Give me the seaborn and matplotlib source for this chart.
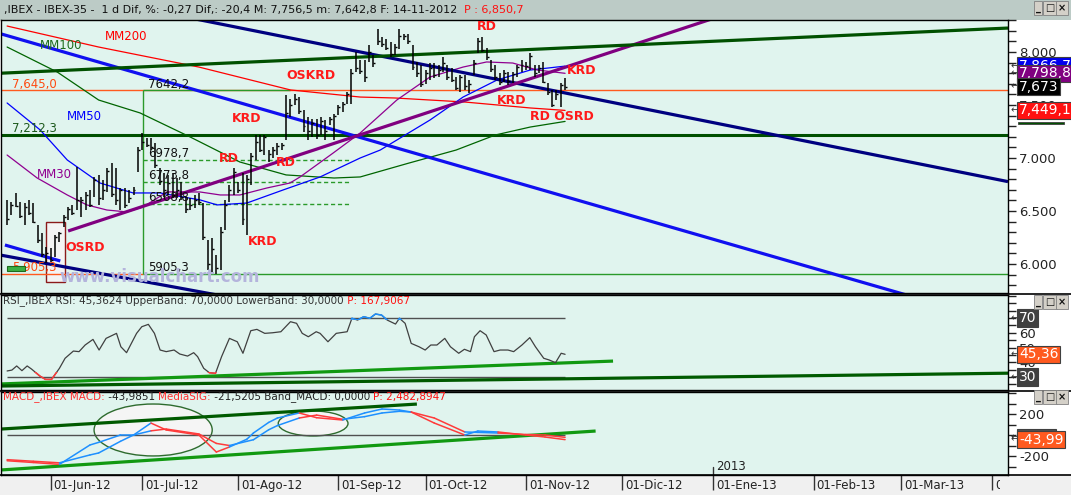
import numpy as np
import pandas as pd
import seaborn as sns
import matplotlib.pyplot as plt
from matplotlib.patches import Rectangle, Ellipse
from matplotlib.lines import Line2D
from matplotlib.text import Annotation
from matplotlib.ticker import MultipleLocator

# IBEX-35 diario 18-05-2012 .. 14-11-2012
maximos = [6604, 6585, 6670, 6585, 6575, 6604, 6575, 6368, 6292, 6160,
           6151, 6274, 6302, 6462, 6538, 6557, 6915, 6632, 6679, 6698,
           6821, 6840, 6792, 6906, 6953, 6906, 6717, 6717, 6698, 6726,
           7104, 7236, 7189, 7189, 7142, 6906, 6858, 6840, 6858, 6811,
           6774, 6632, 6623, 6651, 6670, 6575, 6226, 6245, 6085, 6349,
           6604, 6745, 6906, 6774, 6858, 6840, 7047, 7217, 7217, 7217,
           7075, 7104, 7142, 7142, 7594,
           7557, 7604, 7575, 7453, 7387, 7368, 7368, 7387, 7358, 7387,
           7415, 7500, 7528, 7623, 7840, 8000, 7925, 7925, 8066, 7972,
           8217, 8142, 8123, 8094, 8075, 8217, 8170, 8170, 8066, 7906,
           7877, 7830,
           7896, 7896, 7877, 7953, 7877, 7849, 7764, 7783, 7783, 7736,
           7925, 8132, 8142, 8038, 7925, 7877, 7802, 7830, 7811, 7811,
           7877, 7925, 7906, 7991, 7877, 7877, 7906, 7708, 7642, 7642,
           7708, 7757]
minimos = [6368, 6462, 6538, 6434, 6368, 6462, 6387, 6198, 6066, 6009,
           6019, 6066, 6208, 6349, 6415, 6462, 6509, 6443, 6509, 6538,
           6632, 6557, 6604, 6679, 6632, 6557, 6509, 6528, 6575, 6651,
           6868, 7075, 7104, 7075, 6906, 6745, 6632, 6651, 6623, 6623,
           6604, 6481, 6509, 6528, 6557, 6226, 5943, 5910, 5905, 5943,
           6321, 6585, 6651, 6670, 6368, 6274, 6745, 6981, 7057, 7028,
           6962, 7000, 7028, 7075, 7170,
           7387, 7500, 7415, 7245, 7170, 7198, 7179, 7217, 7170, 7311,
           7170, 7406, 7434, 7509, 7509, 7811, 7792, 7717, 7906, 7858,
           8066, 8047, 8019, 7953, 7972, 8028, 8113, 8075, 7830, 7764,
           7670, 7698,
           7736, 7755, 7764, 7811, 7736, 7717, 7642, 7623, 7642, 7613,
           7783, 7991, 8000, 7925, 7811, 7736, 7689, 7717, 7689, 7708,
           7764, 7811, 7830, 7830, 7764, 7802, 7708, 7594, 7481, 7547,
           7481, 7643]
cierres = [6420, 6560, 6550, 6450, 6540, 6480, 6400, 6230, 6090, 6100,
           6040, 6250, 6290, 6440, 6520, 6480, 6600, 6600, 6650, 6560,
           6790, 6620, 6700, 6880, 6660, 6600, 6700, 6560, 6620, 6700,
           7080, 7150, 7120, 7100, 6930, 6780, 6700, 6760, 6650, 6700,
           6630, 6520, 6560, 6600, 6580, 6250, 6000, 6140, 5960, 6300,
           6560, 6700, 6870, 6700, 6420, 6800, 7020, 7150, 7080, 7200,
           7040, 7080, 7110, 7120, 7420,
           7500, 7560, 7440, 7300, 7250, 7330, 7220, 7350, 7250, 7370,
           7400, 7480, 7510, 7600, 7800, 7850, 7820, 7760, 8000, 7900,
           8100, 8080, 8040, 7980, 8050, 8150, 8150, 8100, 7860, 7800,
           7700, 7800,
           7850, 7780, 7830, 7900, 7760, 7740, 7660, 7760, 7680, 7700,
           7900, 8100, 8020, 7950, 7840, 7760, 7720, 7800, 7730, 7790,
           7860, 7880, 7870, 7960, 7800, 7850, 7720, 7620, 7500, 7600,
           7690, 7673]

# medias moviles (indice de barra, valor)
mm30_x = [0, 6.9, 13.8, 18.3, 22.9, 27.5, 31.2, 36.7, 44.3, 48.9, 53.4, 59.6, 64.9,
          67.2, 74.8, 81, 89.4, 97, 104.6, 110, 116, 121.6, 128]
mm30 = [7028, 6811, 6651, 6557, 6509, 6491, 6538, 6680, 6679, 6651, 6651, 6717, 6764,
        6821, 7047, 7236, 7547, 7764, 7858, 7906, 7896, 7830, 7799]
mm50_x = [0, 7.6, 13.8, 21.3, 28.9, 35.1, 44.3, 48.2, 55, 63.3, 71.8, 81, 85.6, 97,
          104.6, 112.4, 120, 128]
mm50 = [7519, 7264, 6981, 6764, 6670, 6670, 6604, 6557, 6575, 6698, 6821, 7000, 7075, 7358,
        7575, 7736, 7830, 7867]
mm100_x = [0, 11.5, 21, 30.5, 42, 53.4, 64, 75, 81, 92, 103, 112, 120, 128]
mm100 = [8047, 7811, 7547, 7425, 7198, 6962, 6840, 6811, 6821, 6950, 7075, 7217, 7292, 7345]
mm200_x = [0, 21, 44, 65, 81, 89, 105, 120, 128]
mm200 = [8245, 8047, 7858, 7642, 7575, 7566, 7528, 7472, 7449]

# RSI
rsi_x = [0.0, 1.1, 2.2, 3.4, 4.6, 5.6, 7.5, 8.8, 10.2, 12.0, 13.3, 15.2, 16.5, 17.9, 19.7,
         21.1, 22.7, 25.1, 26.1, 27.4, 29.7, 30.9, 32.4, 33.8, 35.1, 36.5, 38.3, 39.6, 41.4,
         42.8, 43.7, 45.1, 46.4, 47.8, 49.2, 51.0, 52.8, 54.1, 55.9, 57.3, 59.1, 60.9, 62.8,
         65.0, 66.4, 67.7, 69.1, 70.9, 71.8, 73.6, 75.5, 78.0, 79.1, 80.4, 81.8, 83.2, 84.5,
         85.9, 87.2, 89.1, 90.0, 91.3, 92.7, 94.5, 95.9, 97.2, 98.6, 100.4, 101.7, 103.6,
         104.9, 106.3, 107.2, 108.5, 109.9, 111.7, 113.1, 114.9, 116.2, 118.1, 119.9, 121.2,
         123.1, 124.4, 125.8, 127.1, 128.0]
rsi = [34.1, 34.7, 37.5, 34.3, 37.5, 35.4, 30.7, 28.4, 28.4, 35.9, 42.7, 47.6, 47.2, 51.7,
       55.5, 48.3, 56.2, 59.6, 50.5, 46.5, 59.6, 64.1, 65.7, 59.6, 48.3, 47.2, 48.3, 45.6,
       44.2, 46.5, 43.8, 35.9, 32.9, 32.5, 43.8, 56.2, 53.9, 46.1, 61.4, 62.3, 59.6, 60.0,
       60.7, 67.5, 66.4, 59.6, 57.3, 60.7, 59.6, 53.9, 59.6, 60.7, 69.8, 68.6, 70.9, 69.8,
       72.7, 72.0, 68.6, 65.9, 69.8, 66.4, 52.8, 50.5, 48.3, 51.7, 51.7, 56.2, 50.5, 46.1,
       48.8, 47.2, 57.3, 61.4, 58.5, 47.2, 48.3, 48.3, 47.2, 51.7, 56.7, 50.5, 42.7, 41.5,
       39.7, 46.1, 45.4]

# MACD y media de senal
macd_x = [0, 6, 12, 19, 21, 26, 29, 33, 36.5, 44, 48, 51, 55, 56.5, 60, 62, 67, 71, 77,
          82, 86, 90, 92.7, 98, 105, 108, 112.6, 119, 123.4, 128]
macd = [-245, -262, -280, -95, -70, 0, 0, 114, 48, 0, -162, -114, -40, 19, 120, 162, 210,
        165, 143, 210, 248, 238, 219, 114, 0, 38, 29, 0, -19, -44]
senal = [-235, -250, -265, -190, -171, -60, 0, 40, 57, 10, -80, -100, -60, -45, 50, 90, 162,
         190, 150, 175, 210, 226, 219, 162, 29, 25, 19, 5, 0, -22]

# niveles
nivel_sup = 7645.0
nivel_verde = 7212.3
fibo = [7642.2, 6978.7, 6773.8, 6568.8, 5905.3]

meses = ['Ene', 'Feb', 'Mar', 'Abr', 'May', 'Jun', 'Jul', 'Ago', 'Sep', 'Oct', 'Nov', 'Dic']
fechas = pd.bdate_range('2012-05-18', periods=240)

sns.set_style('ticks')
plt.rcParams['font.family'] = ['DejaVu Sans']

W, H = 1071, 495
fig = plt.figure(figsize=(W / 100, H / 100), dpi=100)
fig.patch.set_facecolor('white')


def fx(px):
    return px / W


def fy(py):
    return 1 - py / H


# barra de titulo y banda de fechas
fig.add_artist(Rectangle((0, fy(20)), 1, 20 / H, transform=fig.transFigure,
                         fc='#bccbc6', ec='none', zorder=0))
fig.add_artist(Rectangle((0, 0), 1, fy(475), transform=fig.transFigure,
                         fc='#f0f0f0', ec='none', zorder=0))

BG = '#e0f4ee'
L, R = 1, 1008
XMIN, XMAX = -1.4, 229.6
ax1 = fig.add_axes([fx(L), fy(293), fx(R - L), (293 - 20) / H])
ax2 = fig.add_axes([fx(L), fy(390), fx(R - L), (390 - 295) / H])
ax3 = fig.add_axes([fx(L), fy(475), fx(R - L), (475 - 392) / H])

for ax in (ax1, ax2, ax3):
    ax.set_facecolor(BG)
    ax.set_xlim(XMIN, XMAX)
    for s in ax.spines.values():
        s.set_color('black')
        s.set_linewidth(1)
    ax.yaxis.tick_right()
    ax.tick_params(axis='y', which='both', direction='out', length=6, width=1,
                   colors='#222222', labelsize=9.5, pad=2)
for yy in (294, 391, 475):
    fig.add_artist(Line2D([0, 1], [fy(yy), fy(yy)], transform=fig.transFigure,
                          color='black', lw=1.2))

# ---------------- panel de precios ----------------
ax1.set_ylim(5726, 8302)
ax1.set_yticks([6000, 6500, 7000, 7500, 8000], ['6.000', '6.500', '7.000', '7.500', '8.000'])
ax1.yaxis.set_minor_locator(MultipleLocator(100))
ax1.tick_params(axis='x', bottom=False, labelbottom=False)

ax1.add_patch(Rectangle((9, 5830), 4.3, 566, fc='#f4f4f4', ec='#8b1a1a', lw=1, zorder=1.5))

ax1.axhline(nivel_sup, color='#ff5a1f', lw=1, zorder=1.6)
ax1.hlines(fibo[-1], XMIN, 31.2, color='#ff5a1f', lw=1, zorder=1.6)
ax1.hlines(fibo[-1], 31.2, XMAX, color='#2a9a2a', lw=1, zorder=1.6)
ax1.hlines(fibo[0], 31.2, 65, color='#2a9a2a', lw=1, zorder=1.7)
ax1.vlines(31.2, fibo[-1], fibo[0], color='#2a9a2a', lw=1, zorder=1.7)
ax1.hlines(fibo[1:4], 31.2, 79, color='#2a9a2a', lw=1, ls=(0, (3, 2)), zorder=1.7)
ax1.axhline(nivel_verde, color='#005000', lw=2.2, zorder=1.8)

# medias moviles
sns.lineplot(x=mm200_x, y=mm200, ax=ax1, color='#ff0000', lw=0.9)
sns.lineplot(x=mm100_x, y=mm100, ax=ax1, color='#006400', lw=0.9)
sns.lineplot(x=mm50_x, y=mm50, ax=ax1, color='#0000ff', lw=0.9)
sns.lineplot(x=mm30_x, y=mm30, ax=ax1, color='#900090', lw=0.9)

# lineas de tendencia
tendencias = [
    ((40, 229.6), (8338, 6777), '#000080'),
    ((-1.4, 60), (6083, 5618), '#000080'),
    ((-1.4, 229.6), (8171, 5431), '#1010f0'),
    ((-0.5, 12.2), (6179, 6028), '#1010f0'),
    ((14, 166), (6311, 8371), '#800080'),
    ((-1.4, 229.6), (7800, 8226), '#005000'),
]
for xs, ys, c in tendencias:
    ax1.plot(xs, ys, color=c, lw=2.3, zorder=2.2, solid_capstyle='butt')

# barras OHLC
idx = np.arange(len(cierres))
ax1.vlines(idx, minimos, maximos, color='black', lw=1.1, zorder=3)
ax1.hlines(cierres, idx, idx + 0.45, color='black', lw=1, zorder=3)

ax1.add_patch(Rectangle((-0.1, 5934), 4.2, 47, fc='#3cb043', ec='#1d6b1d', lw=0.8, zorder=4))

etiquetas = [
    ('RD', 110.1, 8236), ('OSKRD', 69.7, 7774), ('KRD', 131.9, 7821), ('KRD', 55, 7377),
    ('KRD', 115.8, 7538), ('RD OSRD', 127.3, 7396), ('RD', 50.9, 6991), ('RD', 64, 6962),
    ('KRD', 58.7, 6208), ('OSRD', 17.9, 6160),
]
for s, x, y in etiquetas:
    ax1.text(x, y, s, color='#ff1a1a', fontsize=9, fontweight='bold', ha='center',
             va='center', zorder=6)
for s, x, y, c in [('MM200', 27.3, 8142, '#ff0000'), ('MM100', 12.4, 8066, '#1e6b1e'),
                   ('MM50', 17.7, 7387, '#0000ff'), ('MM30', 10.8, 6840, '#900090')]:
    ax1.text(x, y, s, color=c, fontsize=8.5, ha='center', va='center', zorder=6)
ax1.text(1.1, 7689, '7,645,0', color='#ff4a10', fontsize=8.5, va='center', zorder=6)
ax1.text(1.1, 7274, '7,212,3', color='#1e5a1e', fontsize=8.5, va='center', zorder=6)
ax1.text(1.1, 5962, '5,905,3', color='#ff4a10', fontsize=8.5, va='center', zorder=3.5)
for s, y in [('7642,2', 7698), ('6978,7', 7038), ('6773,8', 6830), ('6568,8', 6623),
             ('5905,3', 5962)]:
    ax1.text(32.3, y, s, color='#111111', fontsize=8.5, va='center', zorder=6)
ax1.text(35.1, 5873, 'www.visualchart.com', color='#b4b4dc', fontsize=12, fontweight='bold',
         ha='center', va='center', zorder=6)


def caja(ax, y, s, fc, size=10):
    ax.annotate('\u2190', xy=(1.0, y), xycoords=ax.get_yaxis_transform(), xytext=(1.5, 0),
                textcoords='offset points', fontsize=7, color='#333333', va='center',
                annotation_clip=False, zorder=9)
    ax.annotate(s, xy=(1.0, y), xycoords=ax.get_yaxis_transform(), xytext=(8, 0),
                textcoords='offset points', ha='left', va='center', fontsize=size,
                color='white', annotation_clip=False, zorder=10,
                bbox=dict(boxstyle='square,pad=0.12', fc=fc, ec='#404040', lw=0.8))


caja(ax1, 7866.7, '7,866,7', '#0000ee')
caja(ax1, 7798.8, '7,798,8', '#800080')
caja(ax1, 7673, '7,673', '#000000')
caja(ax1, 7449.1, '7,449,1', '#ff1010')
ax1.add_patch(Rectangle((1.0095, 7318), 0.0457, 24, transform=ax1.get_yaxis_transform(),
                        fc='#005000', ec='#404040', lw=0.6, clip_on=False, zorder=10))

# ---------------- RSI ----------------
ax2.set_ylim(21.2, 85.6)
ax2.set_yticks([30, 40, 50, 60, 70])
ax2.yaxis.set_minor_locator(MultipleLocator(5))
ax2.tick_params(axis='x', bottom=False, labelbottom=False)
ax2.hlines([70, 30], 0, 128, color='#505050', lw=1)
ax2.plot([-1.4, 139], [25.3, 40.8], color='#119911', lw=2.3, solid_capstyle='butt')
ax2.plot([-1.4, 229.6], [23.9, 32.6], color='#005a00', lw=2.3, solid_capstyle='butt')
sns.lineplot(x=rsi_x, y=rsi, ax=ax2, color='#404040', lw=0.9)
alto = ax2.plot(rsi_x, rsi, color='#1e90ff', lw=1.1)[0]
alto.set_clip_path(Rectangle((XMIN, 68.4), XMAX - XMIN, 40, transform=ax2.transData))
bajo = ax2.plot(rsi_x, rsi, color='#ff3b3b', lw=1.1)[0]
bajo.set_clip_path(Rectangle((XMIN, 0), XMAX - XMIN, 33.2, transform=ax2.transData))
caja(ax2, 70, '70', '#404040')
caja(ax2, 45.36, '45,36', '#ff5a1f')
caja(ax2, 30, '30', '#404040')

# ---------------- MACD ----------------
ax3.set_ylim(-381, 410)
ax3.set_yticks([-200, 0, 200], ['-200', '0', '200'])
ax3.yaxis.set_minor_locator(MultipleLocator(100))
ax3.add_patch(Ellipse((33.5, 48), 27.1, 495, fc='#f5f5f5', ec='#2e6b2e', lw=1, zorder=1.2))
ax3.add_patch(Ellipse((70.2, 110), 16, 238, fc='#f5f5f5', ec='#2e6b2e', lw=1, zorder=1.2))
ax3.hlines(0, 0, 128, color='#505050', lw=1, zorder=1.5)
ax3.plot([-1.4, 94], [57, 295], color='#005a00', lw=2.3, solid_capstyle='butt', zorder=1.6)
ax3.plot([-1.4, 135], [-333, 38], color='#119911', lw=2.3, solid_capstyle='butt', zorder=1.6)
for i in range(len(macd_x) - 1):
    c = '#1e90ff' if macd[i + 1] >= senal[i + 1] else '#ff3b3b'
    ax3.plot(macd_x[i:i + 2], senal[i:i + 2], color=c, lw=1.1, zorder=2)
    ax3.plot(macd_x[i:i + 2], macd[i:i + 2], color=c, lw=1.1, zorder=2)
caja(ax3, -21.5, '-21,5', '#505050')
caja(ax3, -43.99, '-43,99', '#ff5a1f')

# eje de fechas
pos_mes, txt_mes = [], []
for per in pd.period_range('2012-06', '2013-04', freq='M'):
    i = int(np.argmax((fechas.month == per.month) & (fechas.year == per.year)))
    pos_mes.append(i)
    txt_mes.append('01-%s-%02d' % (meses[per.month - 1], per.year % 100))
ax3.set_xticks(pos_mes, [''] * len(pos_mes))
ax3.tick_params(axis='x', which='major', direction='out', length=11, width=1, colors='#333333')
ax3.set_xticks([p + 0.7 for p in pos_mes], txt_mes, minor=True)
ax3.tick_params(axis='x', which='minor', length=0, pad=3, labelsize=8.5, labelcolor='#222222')
recorte = Rectangle((0, 0), fx(1000), 1, transform=fig.transFigure)
for lab in ax3.get_xticklabels(minor=True):
    lab.set_ha('left')
    lab.set_va('top')
    lab.set_clip_path(recorte)
i13 = pos_mes[7]
ax3.axvline(i13, ymin=0, ymax=0.1, color='#333333', lw=1)
ax3.text(i13 + 0.6, 0.03, '2013', transform=ax3.get_xaxis_transform(), fontsize=8.5,
         color='#222222', va='bottom', ha='left')

for ax in (ax1, ax2, ax3):
    ax.set_xlabel('')
    ax.set_ylabel('')


# titulos (trozos de texto encadenados, cada uno a la derecha del anterior)
def titulo(x_px, y_px, partes, size=8):
    t = fig.text(fx(x_px), fy(y_px), partes[0][0], color=partes[0][1], fontsize=size,
                 ha='left', va='center', zorder=20)
    for s, c in partes[1:]:
        a = Annotation(s, xy=(1, 0.5), xycoords=t, color=c, fontsize=size, ha='left',
                       va='center')
        a.set_zorder(20)
        fig.add_artist(a)
        t = a


titulo(4, 10, [(',IBEX - IBEX-35 -  1 d Dif, %: -0,27 Dif,: -20,4 M: 7,756,5 m: 7,642,8 '
                'F: 14-11-2012', '#111111'), ('  P : 6,850,7', '#ff1010')])
titulo(3, 301, [('RSI_,IBEX RSI: 45,3624 UpperBand: 70,0000 LowerBand: 30,0000', '#333333'),
                (' P: 167,9067', '#ff1010')], size=7.5)
titulo(3, 397, [('MACD_,IBEX MACD:', '#ff3030'), (' -43,9851 ', '#222222'),
                ('MediaSIG:', '#ff3030'), (' -21,5205 Band_MACD: 0,0000 ', '#222222'),
                ('P: 2,482,8947', '#ff1010')], size=7.5)


def botones(py):
    for k, s in enumerate(['_', '\u25a1', '\u00d7']):
        fig.text(fx(1038 + 12 * k), fy(py), s, ha='center', va='center', fontsize=7,
                 fontweight='bold', color='#111111', zorder=20,
                 bbox=dict(boxstyle='square,pad=0.2', fc='#d4d0c8', ec='#808080', lw=0.6))


botones(8)
botones(302)
botones(397)

fig.savefig('out.png', dpi=100)
